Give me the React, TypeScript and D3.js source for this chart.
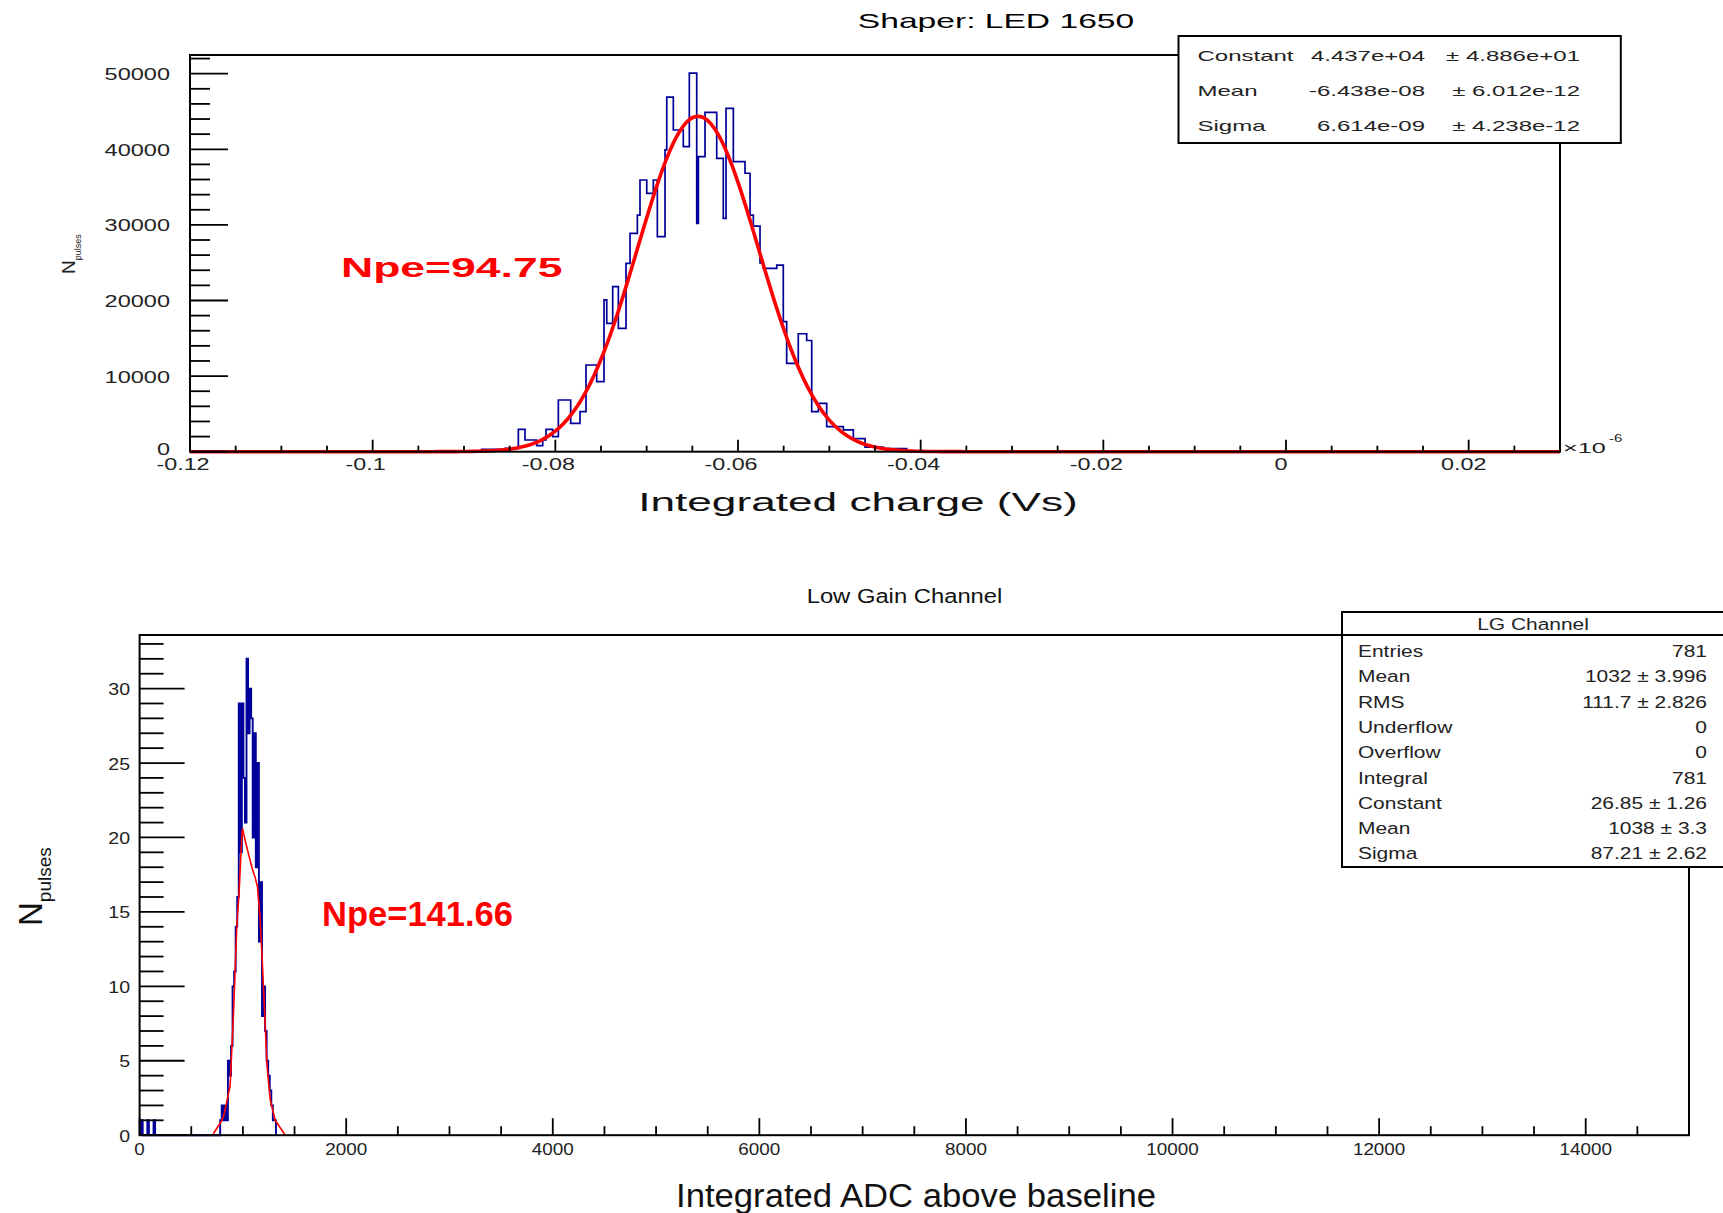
import React from 'react';
import * as d3 from 'd3';

const FONT = '"Liberation Sans", Arial, Helvetica, sans-serif';

// ---------------- Top panel: Shaper LED 1650 (x in units of 1e-6 Vs) ----------------
const chargeEdges = [
  -0.08806, -0.08551, -0.08405, -0.08332, -0.08204, -0.08138, -0.08102, -0.08029, -0.07967,
  -0.07832, -0.0773, -0.07664, -0.07547, -0.07467, -0.07437, -0.07372, -0.0731, -0.07226,
  -0.07182, -0.07102, -0.07073, -0.06999, -0.06927, -0.06883, -0.06799, -0.0678, -0.06708,
  -0.06599, -0.06533, -0.06452, -0.06434, -0.06361, -0.06233, -0.06161, -0.06131, -0.06051,
  -0.05923, -0.05868, -0.05832, -0.05759, -0.05723, -0.05576, -0.05504, -0.05467, -0.0534,
  -0.05248, -0.05193, -0.0512, -0.05029, -0.04847, -0.04737, -0.04609, -0.04409, -0.04153,
];
const chargeCounts = [
  300, 450, 2960, 1550, 800, 1550, 2960, 2000, 6840,
  3750, 5300, 11470, 9270, 20080, 16985, 21830, 16325,
  24900, 28890, 31290, 35940, 34180, 35940, 28440, 39920, 46890,
  42550, 40340, 50060, 30200, 39040, 44890, 38810, 30860, 45420,
  38370, 36830, 31290, 29830, 24970, 24260, 24670, 17200, 11690,
  15600, 14710, 5300, 6400, 3320, 2880, 1740, 600, 400,
];
// Gaussian fit shown in the stats box: constant, mean, sigma
const chargeFitParams = [44370, -0.06438, 0.006614];
const chargeXMajor = [-0.12, -0.1, -0.08, -0.06, -0.04, -0.02, 0, 0.02];
const chargeXLabels = ['-0.12', '-0.1', '-0.08', '-0.06', '-0.04', '-0.02', '0', '0.02'];
const chargeYMajor = [0, 10000, 20000, 30000, 40000, 50000];
const chargeYLabels = ['0', '10000', '20000', '30000', '40000', '50000'];
const chargeStatNames = ['Constant', 'Mean', 'Sigma'];
const chargeStatValues = ['4.437e+04', '-6.438e-08', '6.614e-09'];
const chargeStatErrors = ['\u00b1 4.886e+01', '\u00b1 6.012e-12', '\u00b1 4.238e-12'];

// ---------------- Bottom panel: Low Gain Channel ----------------
const lgBinWidth = 15;
const lgBinLow = [
  15, 75, 135, 780, 795, 810, 825, 840, 855, 870, 885, 900, 915, 930, 945, 960, 975, 990,
  1005, 1020, 1035, 1050, 1065, 1080, 1095, 1110, 1125, 1140, 1155, 1170, 1185, 1200, 1215,
  1230, 1245, 1260, 1275, 1290, 1305,
];
const lgCounts = [
  1, 1, 1, 1, 2, 1, 2, 1, 5, 4, 6, 10, 11, 14, 16, 29, 19, 29,
  24, 21, 32, 27, 30, 28, 20, 27, 18, 25, 13, 17, 8, 10, 7,
  5, 4, 3, 2, 1, 1,
];
const lgFitX = [714, 779, 811, 876, 908, 925, 941, 964, 983, 996, 1022, 1054, 1087, 1119, 1141, 1167, 1184, 1199, 1216, 1232, 1264, 1313, 1410];
const lgFitY = [0.1, 0.8, 1.2, 3.3, 8.0, 11.1, 14.0, 16.4, 19.2, 20.6, 19.8, 18.9, 18.0, 17.3, 16.7, 14.5, 12.2, 10.0, 7.5, 4.8, 2.4, 1.0, 0.0];
const lgXMajor = [0, 2000, 4000, 6000, 8000, 10000, 12000, 14000];
const lgXLabels = ['0', '2000', '4000', '6000', '8000', '10000', '12000', '14000'];
const lgYMajor = [0, 5, 10, 15, 20, 25, 30];
const lgYLabels = ['0', '5', '10', '15', '20', '25', '30'];
const lgStatNames = ['Entries', 'Mean', 'RMS', 'Underflow', 'Overflow', 'Integral', 'Constant', 'Mean', 'Sigma'];
const lgStatValues = ['781', '1032 \u00b1  3.996', '111.7 \u00b1  2.826', '0', '0', '781', '26.85 \u00b1 1.26', '1038 \u00b1 3.3', '87.21 \u00b1 2.62'];

// ---------------- helpers ----------------
type TxtProps = {
  x: number; y: number; sx?: number; size: number; anchor?: string; weight?: string;
  fill?: string; children?: React.ReactNode;
};
const ST = ({ x, y, sx = 1, size, anchor = 'start', weight = 'normal', fill = '#000', children }: TxtProps) => (
  <text
    transform={`translate(${x},${y}) scale(${sx},1)`}
    fontSize={size}
    textAnchor={anchor as any}
    fontWeight={weight}
    fill={fill}
    fontFamily={FONT}
  >
    {children}
  </text>
);

function edgeHistPoints(edges: number[], counts: number[]): [number, number][] {
  const pts: [number, number][] = [[edges[0], 0]];
  counts.forEach((c, i) => {
    pts.push([edges[i], c]);
    pts.push([edges[i + 1], c]);
  });
  pts.push([edges[edges.length - 1], 0]);
  return pts;
}

function fixedHistPoints(lows: number[], counts: number[], w: number): [number, number][] {
  const pts: [number, number][] = [];
  let prevHi: number | null = null;
  lows.forEach((lo, i) => {
    const hi = lo + w;
    if (prevHi === null || Math.abs(lo - prevHi) > 1e-9) {
      if (prevHi !== null) pts.push([prevHi, 0]);
      pts.push([lo, 0]);
    }
    pts.push([lo, counts[i]]);
    pts.push([hi, counts[i]]);
    prevHi = hi;
  });
  if (prevHi !== null) pts.push([prevHi, 0]);
  return pts;
}

export default function App() {
  // ---------- top scales ----------
  const tL = 190, tR = 1560, tT = 55, tB = 451.7;
  const xT = d3.scaleLinear().domain([-0.12, 0.03]).range([tL, tR]);
  const yT = d3.scaleLinear().domain([0, 52470]).range([tB, tT]);
  const lineT = d3.line<[number, number]>().x(d => xT(d[0])).y(d => yT(d[1]));
  const topHist = lineT(edgeHistPoints(chargeEdges, chargeCounts)) || '';
  const [fc, fm, fs] = chargeFitParams;
  const fitPts: [number, number][] = d3.range(0, 401).map(i => {
    const v = -0.12 + (i * 0.15) / 400;
    return [v, fc * Math.exp(-0.5 * ((v - fm) / fs) ** 2)];
  });
  const topFit = lineT(fitPts) || '';
  const topXMinor = d3.range(0, 31).map(i => -0.12 + i * 0.005).filter((v, i) => i % 4 !== 0 && i < 30);
  const topYMinor = d3.range(1, 27).map(i => i * 2000).filter(v => v % 10000 !== 0);

  // ---------- bottom scales ----------
  const bL = 139.6, bR = 1689, bT = 635, bB = 1135.2;
  const xB = d3.scaleLinear().domain([0, 15000]).range([bL, bR]);
  const yB = d3.scaleLinear().domain([0, 33.6]).range([bB, bT]);
  const lineB = d3.line<[number, number]>().x(d => xB(d[0])).y(d => yB(d[1]));
  const botHist = lineB(fixedHistPoints(lgBinLow, lgCounts, lgBinWidth)) || '';
  const botFit = lineB(lgFitX.map((x, i) => [x, lgFitY[i]] as [number, number])) || '';
  const botXMinor = d3.range(1, 30).map(i => i * 500).filter(v => v % 2000 !== 0);
  const botYMinor = d3.range(1, 34).filter(v => v % 5 !== 0);

  const blue = '#00009a';

  return (
    <svg
      width={1723}
      height={1213}
      style={{ position: 'absolute', left: 0, top: 0, display: 'block', background: '#fff' }}
    >
      <rect x={0} y={0} width={1723} height={1213} fill="#fff" />

      {/* ================= TOP PANEL ================= */}
      <ST x={996} y={28} sx={1.6} size={21} anchor="middle">Shaper: LED 1650</ST>

      {/* histogram */}
      <path d={topHist} fill="none" stroke={blue} strokeWidth={1.7} />
      {/* fit */}
      <path d={topFit} fill="none" stroke="#ff0000" strokeWidth={3.6} strokeLinejoin="round" />

      {/* frame */}
      <rect x={tL} y={tT} width={tR - tL} height={tB - tT} fill="none" stroke="#000" strokeWidth={2} />

      {/* x ticks */}
      {chargeXMajor.map(v => (
        <line key={'txM' + v} x1={xT(v)} x2={xT(v)} y1={tB} y2={tB - 12} stroke="#000" strokeWidth={1.8} />
      ))}
      {topXMinor.map(v => (
        <line key={'txm' + v} x1={xT(v)} x2={xT(v)} y1={tB} y2={tB - 6} stroke="#000" strokeWidth={1.8} />
      ))}
      {chargeXMajor.map((v, i) => (
        <ST key={'txl' + v} x={xT(v) - (chargeXLabels[i].startsWith('-') ? 7 : 5)} y={470} sx={1.46} size={16} anchor="middle" fill="#222">
          {chargeXLabels[i]}
        </ST>
      ))}
      <ST x={1563} y={453} sx={1.8} size={14} fill="#222">{'\u00d710'}</ST>
      <ST x={1609} y={442} sx={1.5} size={10} fill="#222">-6</ST>

      {/* y ticks */}
      {chargeYMajor.map(v => (
        <line key={'tyM' + v} x1={tL} x2={tL + 38} y1={yT(v)} y2={yT(v)} stroke="#000" strokeWidth={1.8} />
      ))}
      {topYMinor.map(v => (
        <line key={'tym' + v} x1={tL} x2={tL + 20} y1={yT(v)} y2={yT(v)} stroke="#000" strokeWidth={1.8} />
      ))}
      {chargeYMajor.map((v, i) => (
        <ST key={'tyl' + v} x={170} y={yT(v) + (v === 0 ? 3 : 6.5)} sx={1.47} size={16} anchor="end" fill="#222">
          {chargeYLabels[i]}
        </ST>
      ))}

      {/* axis titles */}
      <ST x={858} y={511} sx={1.7} size={26} anchor="middle" fill="#111">Integrated charge (Vs)</ST>
      <text transform="translate(75,274) rotate(-90)" fontFamily={FONT} fill="#222">
        <tspan fontSize={19}>N</tspan>
        <tspan fontSize={9} dy={6}>pulses</tspan>
      </text>

      {/* Npe */}
      <ST x={341} y={277} sx={1.59} size={28} weight="bold" fill="#ff0000">Npe=94.75</ST>

      {/* stats box */}
      <rect x={1178.5} y={36} width={442.3} height={107} fill="#fff" stroke="#000" strokeWidth={2} />
      {chargeStatNames.map((n, i) => {
        const y = 61 + i * 35;
        return (
          <g key={'ts' + i}>
            <ST x={1197.5} y={y} sx={1.6} size={15} fill="#222">{n}</ST>
            <ST x={1425} y={y} sx={1.6} size={15} anchor="end" fill="#222">{chargeStatValues[i]}</ST>
            <ST x={1580} y={y} sx={1.6} size={15} anchor="end" fill="#222">{chargeStatErrors[i]}</ST>
          </g>
        );
      })}

      {/* ================= BOTTOM PANEL ================= */}
      <ST x={904.5} y={603} sx={1.19} size={20} anchor="middle" fill="#111">Low Gain Channel</ST>

      <path d={botHist} fill="none" stroke={blue} strokeWidth={1.9} />
      <path d={botFit} fill="none" stroke="#ff0000" strokeWidth={1.6} />

      <rect x={bL} y={bT} width={bR - bL} height={bB - bT} fill="none" stroke="#000" strokeWidth={2} />

      {lgXMajor.map(v => (
        <line key={'bxM' + v} x1={xB(v)} x2={xB(v)} y1={bB} y2={bB - 17} stroke="#000" strokeWidth={1.8} />
      ))}
      {botXMinor.map(v => (
        <line key={'bxm' + v} x1={xB(v)} x2={xB(v)} y1={bB} y2={bB - 9} stroke="#000" strokeWidth={1.8} />
      ))}
      {lgXMajor.map((v, i) => (
        <ST key={'bxl' + v} x={xB(v)} y={1155} sx={1.18} size={16} anchor="middle" fill="#222">
          {lgXLabels[i]}
        </ST>
      ))}

      {lgYMajor.map(v => (
        <line key={'byM' + v} x1={bL} x2={bL + 45} y1={yB(v)} y2={yB(v)} stroke="#000" strokeWidth={1.8} />
      ))}
      {botYMinor.map(v => (
        <line key={'bym' + v} x1={bL} x2={bL + 24} y1={yB(v)} y2={yB(v)} stroke="#000" strokeWidth={1.8} />
      ))}
      {lgYMajor.map((v, i) => (
        <ST key={'byl' + v} x={130} y={yB(v) + 6.5} sx={1.15} size={17} anchor="end" fill="#222">
          {lgYLabels[i]}
        </ST>
      ))}

      <text x={676} y={1207} fontSize={34} fontFamily={FONT} fill="#111" textLength={480} lengthAdjust="spacingAndGlyphs">
        Integrated ADC above baseline
      </text>
      <text transform="translate(42,926) rotate(-90)" fontFamily={FONT} fill="#111">
        <tspan fontSize={33}>N</tspan>
        <tspan fontSize={19} dy={9}>pulses</tspan>
      </text>

      <text x={322} y={926} fontSize={35} fontWeight="bold" fontFamily={FONT} fill="#ff0000" textLength={191} lengthAdjust="spacingAndGlyphs">
        Npe=141.66
      </text>

      {/* stats box */}
      <rect x={1342} y={612} width={390} height={255} fill="#fff" stroke="#000" strokeWidth={2} />
      <line x1={1342} x2={1723} y1={635} y2={635} stroke="#000" strokeWidth={2} />
      <ST x={1533} y={630} sx={1.27} size={16.5} anchor="middle" fill="#222">LG Channel</ST>
      {lgStatNames.map((n, i) => {
        const y = 657 + i * 25.3;
        return (
          <g key={'bs' + i}>
            <ST x={1358} y={y} sx={1.27} size={16.5} fill="#222">{n}</ST>
            <ST x={1707} y={y} sx={1.27} size={16.5} anchor="end" fill="#222">{lgStatValues[i]}</ST>
          </g>
        );
      })}
    </svg>
  );
}
